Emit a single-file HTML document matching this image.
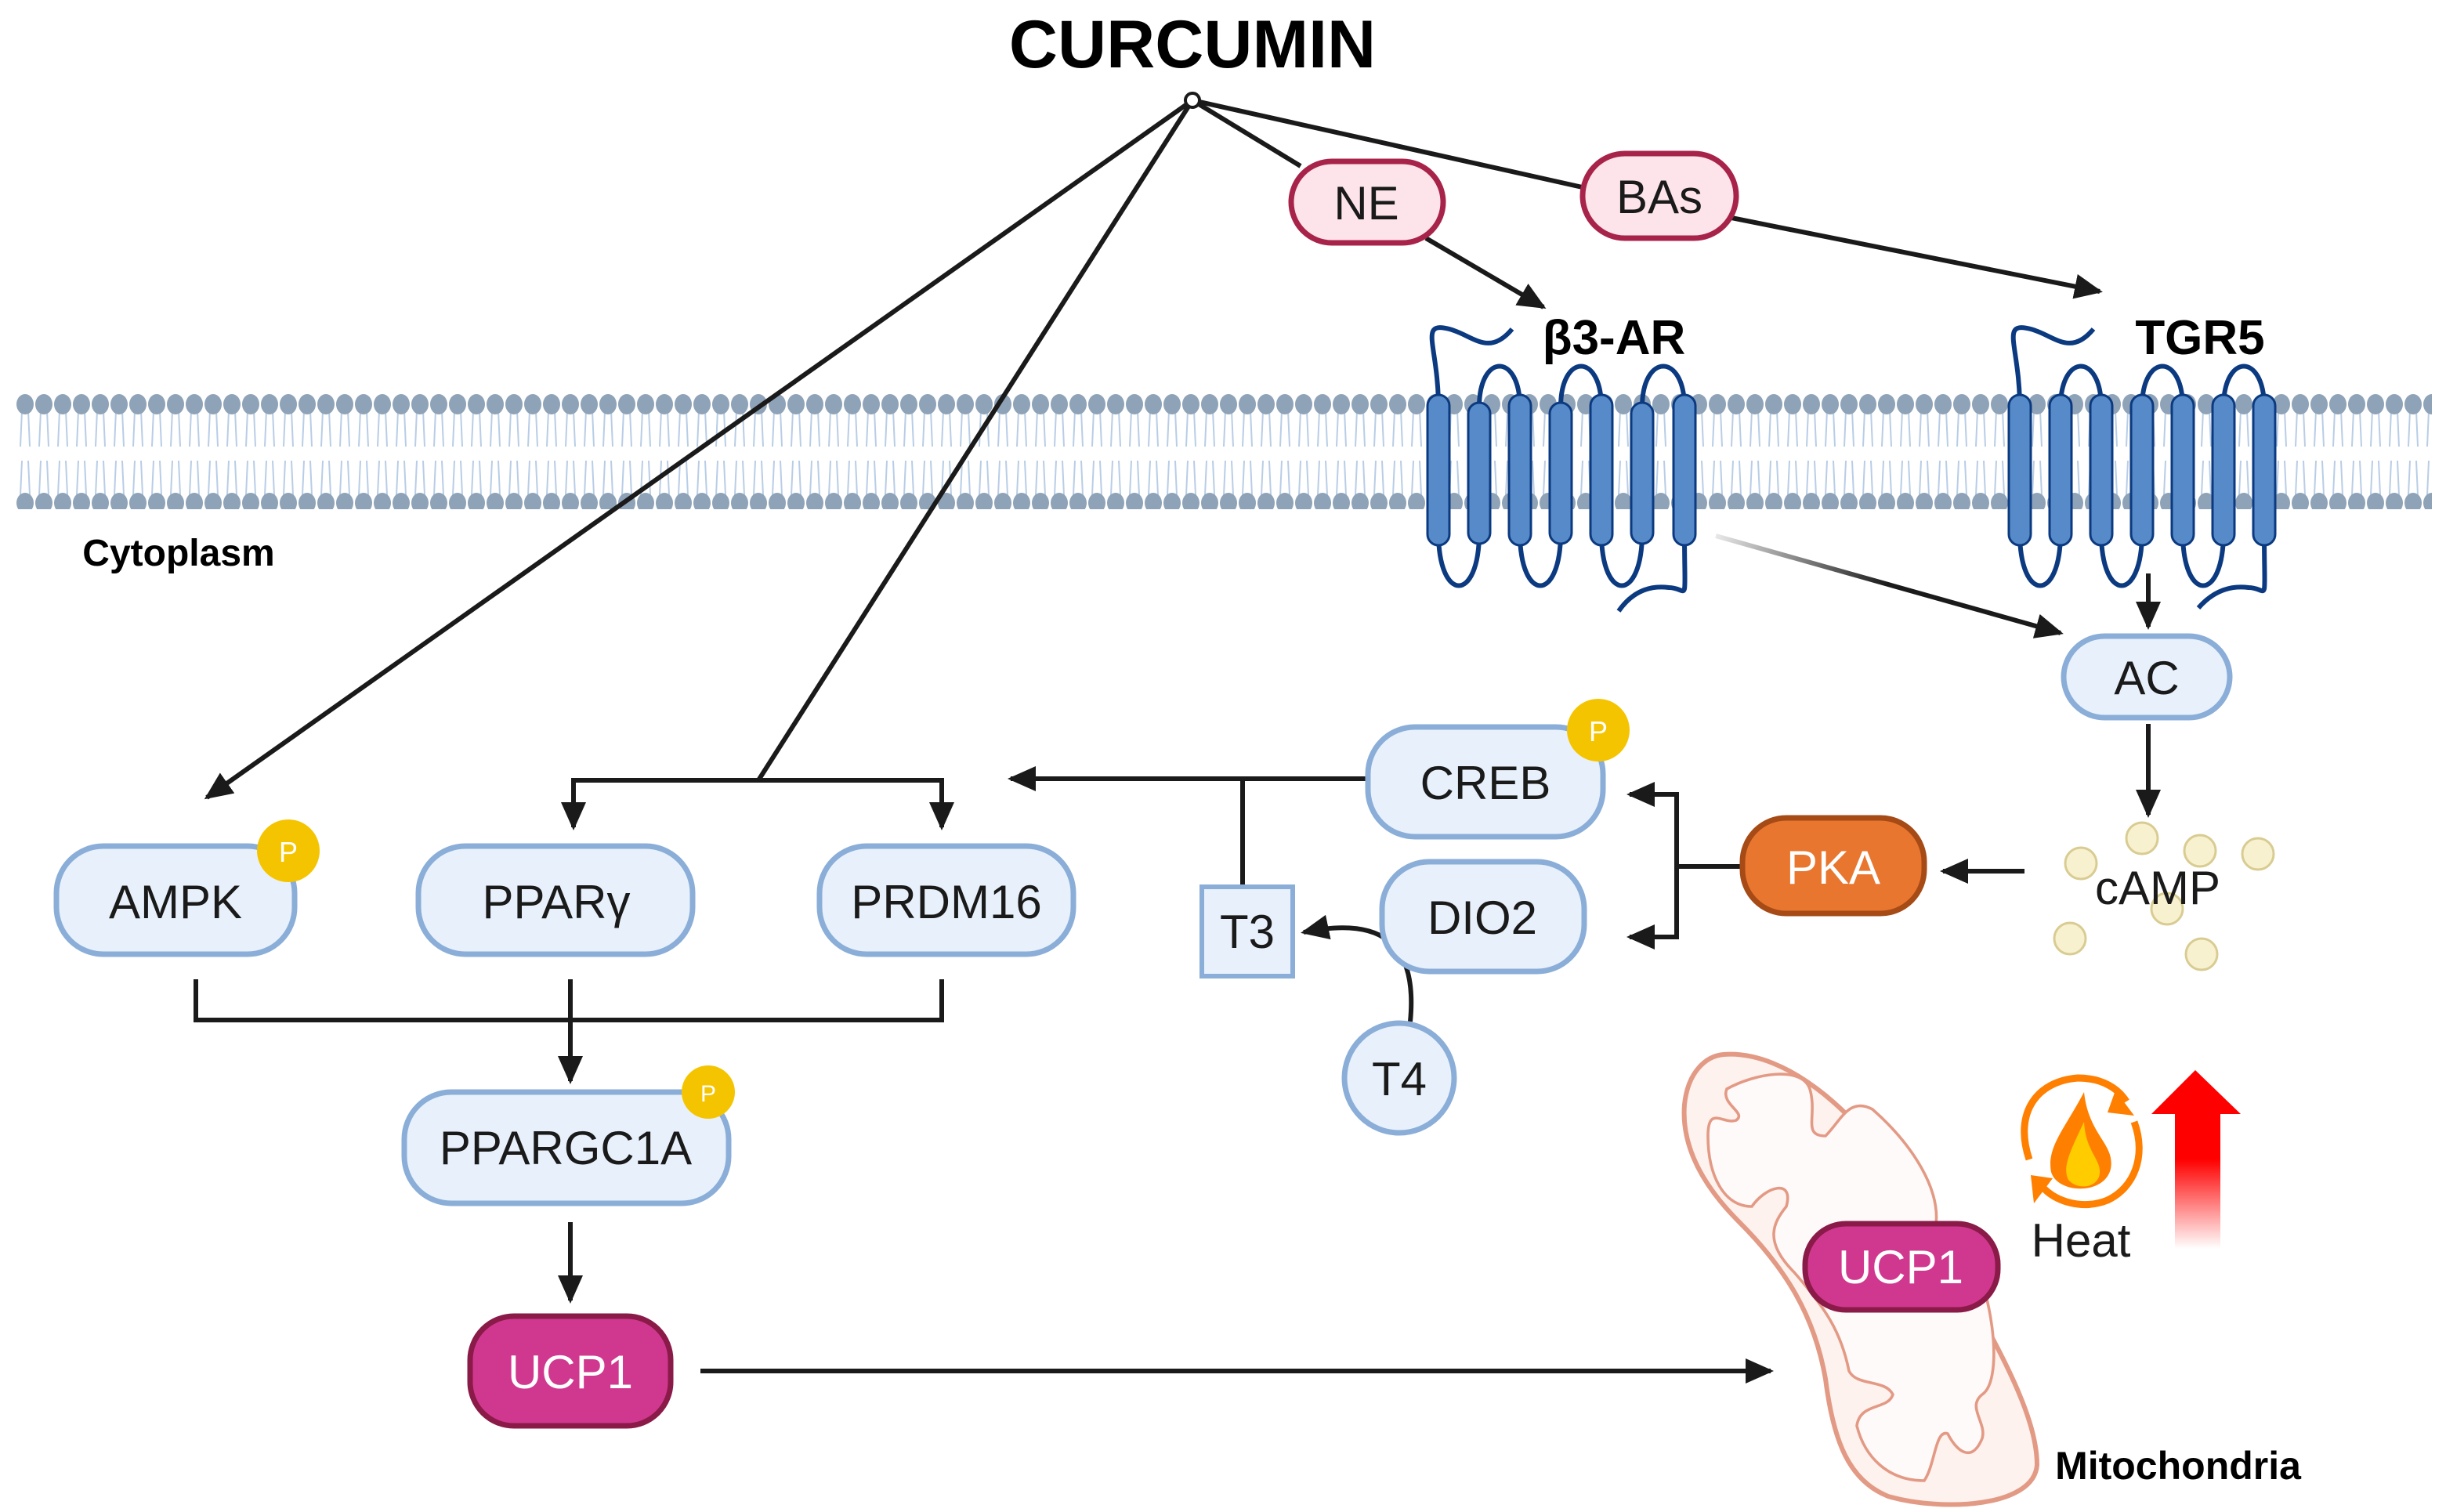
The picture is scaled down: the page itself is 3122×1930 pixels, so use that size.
<!DOCTYPE html>
<html><head><meta charset="utf-8"><style>html,body{margin:0;padding:0;background:#fff}svg{display:block}</style></head>
<body>
<svg width="3122" height="1930" viewBox="0 0 1561 965" xmlns="http://www.w3.org/2000/svg" font-family="Liberation Sans, sans-serif">
<defs>
<pattern id="mem" x="10" y="245" width="12" height="80" patternUnits="userSpaceOnUse">
<path d="M4,262 L3,285 M8,262 L9,285 M4,294 L3,316 M8,294 L9,316" stroke="#b8cde6" stroke-width="1" fill="none" transform="translate(0,-245)"/>
<ellipse cx="6" cy="13" rx="5.5" ry="6.5" fill="#8fa3b8"/>
<ellipse cx="6" cy="76" rx="5.5" ry="6.5" fill="#8fa3b8"/>
</pattern>
<marker id="ahb" markerWidth="18" markerHeight="16" refX="16" refY="8" orient="auto" markerUnits="userSpaceOnUse"><path d="M0,0 L18,8 L0,16 z" fill="#1a1a1a"/></marker>
<linearGradient id="gline" x1="1095" y1="342" x2="1315" y2="404" gradientUnits="userSpaceOnUse"><stop offset="0" stop-color="#1a1a1a" stop-opacity="0.1"/><stop offset="0.5" stop-color="#1a1a1a"/></linearGradient>
<linearGradient id="red" x1="0" y1="0" x2="0" y2="1"><stop offset="0.5" stop-color="#ff0000"/><stop offset="1" stop-color="#ff0000" stop-opacity="0"/></linearGradient>
</defs>

<!-- membrane -->
<rect x="10" y="245" width="1542" height="83" fill="url(#mem)"/>

<!-- receptors -->
<g stroke="#0c3a80" stroke-width="3" fill="none">
<path d="M918,260 C918,220 905,205 925,210 C940,214 950,228 965,210"/>
<path d="M944,260 C944,225 970,225 970,260 M996,260 C996,225 1022,225 1022,260 M1048,260 C1048,225 1075,225 1075,260"/>
<path d="M918,340 C918,385 944,385 944,340 M970,340 C970,385 996,385 996,340 M1022,340 C1022,385 1048,385 1048,340"/>
<path d="M1075,340 C1075,390 1078,375 1065,375 C1050,373 1040,380 1033,390"/>
<path d="M1289,260 C1289,220 1276,205 1296,210 C1311,214 1321,228 1336,210"/>
<path d="M1315,260 C1315,225 1341,225 1341,260 M1367,260 C1367,225 1393,225 1393,260 M1419,260 C1419,225 1445,225 1445,260"/>
<path d="M1289,340 C1289,385 1315,385 1315,340 M1341,340 C1341,385 1367,385 1367,340 M1393,340 C1393,385 1419,385 1419,340"/>
<path d="M1445,340 C1445,390 1448,375 1435,375 C1420,373 1410,380 1403,388"/>
</g>
<g fill="#568ac8" stroke="#0c3a80" stroke-width="1.5">
<rect x="911" y="252" width="14" height="96" rx="7"/><rect x="937" y="257" width="14" height="90" rx="7"/><rect x="963" y="252" width="14" height="96" rx="7"/><rect x="989" y="257" width="14" height="90" rx="7"/><rect x="1015" y="252" width="14" height="96" rx="7"/><rect x="1041" y="257" width="14" height="90" rx="7"/><rect x="1068" y="252" width="14" height="96" rx="7"/>
<rect x="1282" y="252" width="14" height="96" rx="7"/><rect x="1308" y="252" width="14" height="96" rx="7"/><rect x="1334" y="252" width="14" height="96" rx="7"/><rect x="1360" y="252" width="14" height="96" rx="7"/><rect x="1386" y="252" width="14" height="96" rx="7"/><rect x="1412" y="252" width="14" height="96" rx="7"/><rect x="1438" y="252" width="14" height="96" rx="7"/>
</g>

<!-- lines -->
<g stroke="#1a1a1a" stroke-width="3" fill="none">
<line x1="761" y1="64" x2="132" y2="509" marker-end="url(#ahb)"/>
<line x1="761" y1="64" x2="484" y2="498"/>
<polyline points="366,528 366,498 601,498 601,528"/>
<line x1="366" y1="510" x2="366" y2="528" marker-end="url(#ahb)"/>
<line x1="601" y1="510" x2="601" y2="528" marker-end="url(#ahb)"/>
<line x1="761" y1="64" x2="830" y2="106"/>
<line x1="910" y1="152" x2="985" y2="196" marker-end="url(#ahb)"/>
<line x1="761" y1="64" x2="1012" y2="120"/>
<line x1="1100" y1="138" x2="1340" y2="186" marker-end="url(#ahb)"/>
<line x1="1095" y1="342" x2="1315" y2="404" stroke="url(#gline)" marker-end="url(#ahb)"/>
<line x1="1371" y1="366" x2="1371" y2="400" marker-end="url(#ahb)"/>
<line x1="1371" y1="462" x2="1371" y2="520" marker-end="url(#ahb)"/>
<line x1="1292" y1="556" x2="1240" y2="556" marker-end="url(#ahb)"/>
<polyline points="1112,553 1070,553"/>
<polyline points="1040,507 1070,507 1070,598 1040,598"/>
<line x1="1060" y1="507" x2="1040" y2="507" marker-end="url(#ahb)"/>
<line x1="1060" y1="598" x2="1040" y2="598" marker-end="url(#ahb)"/>
<line x1="873" y1="497" x2="645" y2="497" marker-end="url(#ahb)"/>
<line x1="793" y1="497" x2="793" y2="566"/>
<path d="M900,652 C905,600 880,585 832,595" marker-end="url(#ahb)"/>
<polyline points="125,625 125,651 601,651 601,625"/>
<line x1="364" y1="625" x2="364" y2="690" marker-end="url(#ahb)"/>
<line x1="364" y1="780" x2="364" y2="830" marker-end="url(#ahb)"/>
<line x1="447" y1="875" x2="1130" y2="875" marker-end="url(#ahb)"/>
</g>
<circle cx="761" cy="64" r="4.5" fill="#fff" stroke="#1a1a1a" stroke-width="2"/>

<!-- mitochondria -->
<path d="M1100,673 C1140,670 1190,710 1230,780 C1270,850 1300,900 1300,935 C1298,962 1240,965 1205,955 C1180,945 1170,920 1165,880 C1158,840 1140,810 1110,780 C1085,755 1073,730 1075,705 C1077,685 1088,674 1100,673 Z" fill="#fdf2ee" stroke="#e39a85" stroke-width="3"/>
<path d="M1102,695 C1120,685 1150,680 1155,695 C1160,712 1150,725 1165,725 C1175,715 1180,700 1195,708 C1220,730 1240,760 1235,785 C1230,800 1245,805 1255,800 C1270,815 1280,880 1265,890 C1255,898 1268,908 1265,918 C1258,935 1248,925 1243,915 C1235,912 1235,935 1228,945 C1205,945 1190,930 1185,910 C1187,895 1205,900 1208,890 C1203,880 1185,885 1180,875 C1175,850 1165,835 1145,812 C1125,792 1132,780 1140,770 C1145,752 1127,757 1118,770 C1100,770 1090,750 1090,725 C1090,705 1100,718 1108,715 C1115,710 1098,705 1102,695 Z" fill="#fffafa" stroke="#e39a85" stroke-width="1.8"/>

<!-- nodes -->
<g stroke-width="3.5">
<rect x="824" y="103" width="97" height="52" rx="26" fill="#fde4ea" stroke="#a8234a"/>
<rect x="1010" y="98" width="98" height="54" rx="27" fill="#fde4ea" stroke="#a8234a"/>
<rect x="1317" y="406" width="106" height="52" rx="26" fill="#e8f1fb" stroke="#8aaed8"/>
<rect x="873" y="464" width="150" height="70" rx="30" fill="#e8f1fb" stroke="#8aaed8"/>
<rect x="882" y="550" width="129" height="70" rx="30" fill="#e8f1fb" stroke="#8aaed8"/>
<rect x="1112" y="522" width="116" height="61" rx="28" fill="#e8762f" stroke="#a64a16"/>
<rect x="36" y="540" width="152" height="69" rx="30" fill="#e8f1fb" stroke="#8aaed8"/>
<rect x="267" y="540" width="175" height="69" rx="30" fill="#e8f1fb" stroke="#8aaed8"/>
<rect x="523" y="540" width="162" height="69" rx="30" fill="#e8f1fb" stroke="#8aaed8"/>
<rect x="258" y="697" width="207" height="71" rx="30" fill="#e8f1fb" stroke="#8aaed8"/>
<rect x="300" y="840" width="128" height="70" rx="28" fill="#d0388f" stroke="#8a1a48"/>
<rect x="1152" y="781" width="123" height="55" rx="26" fill="#d0388f" stroke="#8a1a48"/>
<rect x="767" y="566" width="58" height="57" fill="#e8f1fb" stroke="#8aaed8" stroke-width="3"/>
<circle cx="893" cy="688" r="35" fill="#e8f1fb" stroke="#8aaed8"/>
</g>
<g fill="#f5c400">
<circle cx="1020" cy="466" r="20"/><circle cx="184" cy="543" r="20"/><circle cx="452" cy="697" r="17"/>
</g>
<g fill="#fff" font-size="18" text-anchor="middle">
<text x="1020" y="473">P</text><text x="184" y="550">P</text><text x="452" y="703" font-size="15">P</text>
</g>

<!-- cAMP dots -->
<g fill="#f7f1d0" stroke="#d9cc92" stroke-width="1.5">
<circle cx="1328" cy="551" r="10"/><circle cx="1367" cy="535" r="10"/><circle cx="1404" cy="543" r="10"/><circle cx="1441" cy="545" r="10"/><circle cx="1383" cy="580" r="10"/><circle cx="1321" cy="599" r="10"/><circle cx="1405" cy="609" r="10"/>
</g>

<!-- heat -->
<g fill="none" stroke="#ff7f00" stroke-width="4.5">
<path d="M1295,740 C1285,710 1300,690 1326,688 C1342,688 1352,695 1357,703"/>
<path d="M1362,716 C1370,738 1362,758 1345,766 C1330,772 1312,768 1302,756"/>
</g>
<path d="M1350,696 L1362,712 L1345,710 Z M1296,750 L1298,768 L1310,752 Z" fill="#ff7f00"/>
<path d="M1330,697 C1318,720 1306,732 1309,748 C1313,762 1343,763 1347,746 C1350,730 1333,725 1330,697 Z" fill="#ff7f00"/>
<path d="M1330,716 C1321,735 1316,745 1320,753 C1326,760 1339,758 1340,749 C1341,740 1331,735 1330,716 Z" fill="#ffcc00"/>
<path d="M1373,711 L1401,683 L1430,711 L1417,711 L1417,797 L1388,797 L1388,711 Z" fill="url(#red)"/>

<!-- text -->
<g font-size="30" fill="#1a1a1a" text-anchor="middle">
<text x="872" y="140">NE</text>
<text x="1059" y="136">BAs</text>
<text x="1370" y="443">AC</text>
<text x="948" y="510">CREB</text>
<text x="946" y="596">DIO2</text>
<text x="1377" y="577">cAMP</text>
<text x="112" y="586">AMPK</text>
<text x="355" y="586">PPARγ</text>
<text x="604" y="586">PRDM16</text>
<text x="361" y="743">PPARGC1A</text>
<text x="796" y="605">T3</text>
<text x="893" y="699">T4</text>
<text x="1328" y="802">Heat</text>
</g>
<g font-size="30" fill="#fff" text-anchor="middle">
<text x="1170" y="564">PKA</text>
<text x="364" y="886">UCP1</text>
<text x="1213" y="819">UCP1</text>
</g>
<g font-weight="bold" fill="#000" text-anchor="middle">
<text x="761" y="43" font-size="43">CURCUMIN</text>
<text x="1030" y="226" font-size="31">β3-AR</text>
<text x="1404" y="226" font-size="31">TGR5</text>
<text x="114" y="361" font-size="24">Cytoplasm</text>
<text x="1390" y="944" font-size="25">Mitochondria</text>
</g>
</svg>
</body></html>
